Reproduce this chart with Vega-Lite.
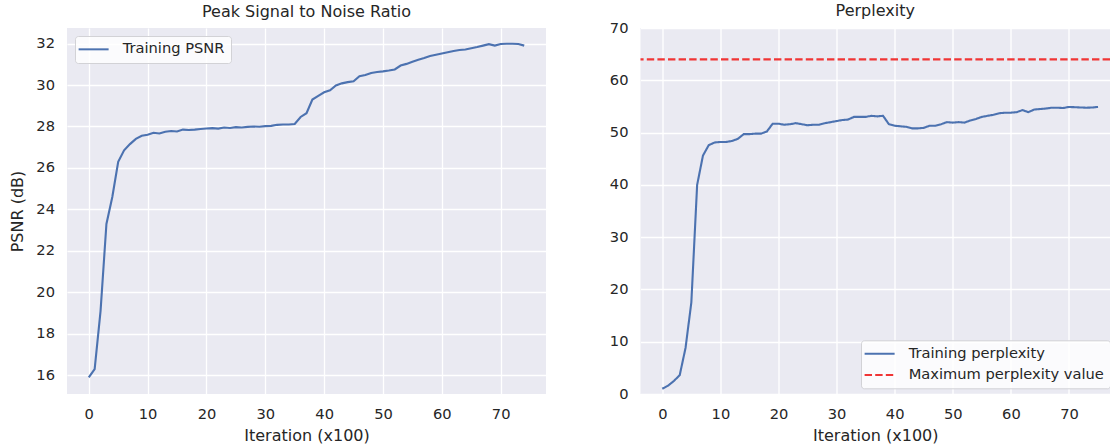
{
  "$schema": "https://vega.github.io/schema/vega-lite/v6.json",
  "background": "white",
  "padding": {"left": 9, "top": 2, "right": 0, "bottom": 0},
  "bounds": "flush",
  "spacing": 94.5,
  "datasets": {
    "psnr": [
      {"it": 0, "psnr": 15.9}, {"it": 1, "psnr": 16.3}, {"it": 2, "psnr": 19.1}, {"it": 3, "psnr": 23.3},
      {"it": 4, "psnr": 24.6}, {"it": 5, "psnr": 26.3}, {"it": 6, "psnr": 26.85}, {"it": 7, "psnr": 27.15},
      {"it": 8, "psnr": 27.4}, {"it": 9, "psnr": 27.55}, {"it": 10, "psnr": 27.6}, {"it": 11, "psnr": 27.7},
      {"it": 12, "psnr": 27.66}, {"it": 13, "psnr": 27.75}, {"it": 14, "psnr": 27.78}, {"it": 15, "psnr": 27.76},
      {"it": 16, "psnr": 27.85}, {"it": 17, "psnr": 27.83}, {"it": 18, "psnr": 27.85}, {"it": 19, "psnr": 27.88},
      {"it": 20, "psnr": 27.9}, {"it": 21, "psnr": 27.92}, {"it": 22, "psnr": 27.9}, {"it": 23, "psnr": 27.95},
      {"it": 24, "psnr": 27.93}, {"it": 25, "psnr": 27.97}, {"it": 26, "psnr": 27.95}, {"it": 27, "psnr": 27.98},
      {"it": 28, "psnr": 28.0}, {"it": 29, "psnr": 27.99}, {"it": 30, "psnr": 28.02}, {"it": 31, "psnr": 28.03},
      {"it": 32, "psnr": 28.08}, {"it": 33, "psnr": 28.1}, {"it": 34, "psnr": 28.1}, {"it": 35, "psnr": 28.12},
      {"it": 36, "psnr": 28.46}, {"it": 37, "psnr": 28.64}, {"it": 38, "psnr": 29.3}, {"it": 39, "psnr": 29.48},
      {"it": 40, "psnr": 29.65}, {"it": 41, "psnr": 29.75}, {"it": 42, "psnr": 29.98}, {"it": 43, "psnr": 30.08},
      {"it": 44, "psnr": 30.14}, {"it": 45, "psnr": 30.18}, {"it": 46, "psnr": 30.42}, {"it": 47, "psnr": 30.48},
      {"it": 48, "psnr": 30.58}, {"it": 49, "psnr": 30.63}, {"it": 50, "psnr": 30.66}, {"it": 51, "psnr": 30.7},
      {"it": 52, "psnr": 30.75}, {"it": 53, "psnr": 30.94}, {"it": 54, "psnr": 31.02}, {"it": 55, "psnr": 31.12},
      {"it": 56, "psnr": 31.22}, {"it": 57, "psnr": 31.3}, {"it": 58, "psnr": 31.4}, {"it": 59, "psnr": 31.46},
      {"it": 60, "psnr": 31.52}, {"it": 61, "psnr": 31.58}, {"it": 62, "psnr": 31.64}, {"it": 63, "psnr": 31.69},
      {"it": 64, "psnr": 31.71}, {"it": 65, "psnr": 31.77}, {"it": 66, "psnr": 31.83}, {"it": 67, "psnr": 31.9},
      {"it": 68, "psnr": 31.97}, {"it": 69, "psnr": 31.9}, {"it": 70, "psnr": 31.98}, {"it": 71, "psnr": 31.99},
      {"it": 72, "psnr": 31.99}, {"it": 73, "psnr": 31.98}, {"it": 74, "psnr": 31.9}
    ],
    "ppl": [
      {"it": 0, "ppl": 1.0, "series": "Training perplexity"}, {"it": 1, "ppl": 1.6, "series": "Training perplexity"},
      {"it": 2, "ppl": 2.5, "series": "Training perplexity"}, {"it": 3, "ppl": 3.6, "series": "Training perplexity"},
      {"it": 4, "ppl": 8.8, "series": "Training perplexity"}, {"it": 5, "ppl": 17.5, "series": "Training perplexity"},
      {"it": 6, "ppl": 40.0, "series": "Training perplexity"}, {"it": 7, "ppl": 45.6, "series": "Training perplexity"},
      {"it": 8, "ppl": 47.6, "series": "Training perplexity"}, {"it": 9, "ppl": 48.1, "series": "Training perplexity"},
      {"it": 10, "ppl": 48.2, "series": "Training perplexity"}, {"it": 11, "ppl": 48.2, "series": "Training perplexity"},
      {"it": 12, "ppl": 48.4, "series": "Training perplexity"}, {"it": 13, "ppl": 48.8, "series": "Training perplexity"},
      {"it": 14, "ppl": 49.7, "series": "Training perplexity"}, {"it": 15, "ppl": 49.7, "series": "Training perplexity"},
      {"it": 16, "ppl": 49.8, "series": "Training perplexity"}, {"it": 17, "ppl": 49.8, "series": "Training perplexity"},
      {"it": 18, "ppl": 50.2, "series": "Training perplexity"}, {"it": 19, "ppl": 51.7, "series": "Training perplexity"},
      {"it": 20, "ppl": 51.7, "series": "Training perplexity"}, {"it": 21, "ppl": 51.5, "series": "Training perplexity"},
      {"it": 22, "ppl": 51.6, "series": "Training perplexity"}, {"it": 23, "ppl": 51.8, "series": "Training perplexity"},
      {"it": 24, "ppl": 51.6, "series": "Training perplexity"}, {"it": 25, "ppl": 51.4, "series": "Training perplexity"},
      {"it": 26, "ppl": 51.5, "series": "Training perplexity"}, {"it": 27, "ppl": 51.5, "series": "Training perplexity"},
      {"it": 28, "ppl": 51.8, "series": "Training perplexity"}, {"it": 29, "ppl": 52.0, "series": "Training perplexity"},
      {"it": 30, "ppl": 52.2, "series": "Training perplexity"}, {"it": 31, "ppl": 52.4, "series": "Training perplexity"},
      {"it": 32, "ppl": 52.5, "series": "Training perplexity"}, {"it": 33, "ppl": 53.0, "series": "Training perplexity"},
      {"it": 34, "ppl": 53.0, "series": "Training perplexity"}, {"it": 35, "ppl": 53.0, "series": "Training perplexity"},
      {"it": 36, "ppl": 53.2, "series": "Training perplexity"}, {"it": 37, "ppl": 53.1, "series": "Training perplexity"},
      {"it": 38, "ppl": 53.2, "series": "Training perplexity"}, {"it": 39, "ppl": 51.6, "series": "Training perplexity"},
      {"it": 40, "ppl": 51.3, "series": "Training perplexity"}, {"it": 41, "ppl": 51.2, "series": "Training perplexity"},
      {"it": 42, "ppl": 51.1, "series": "Training perplexity"}, {"it": 43, "ppl": 50.8, "series": "Training perplexity"},
      {"it": 44, "ppl": 50.8, "series": "Training perplexity"}, {"it": 45, "ppl": 50.9, "series": "Training perplexity"},
      {"it": 46, "ppl": 51.3, "series": "Training perplexity"}, {"it": 47, "ppl": 51.3, "series": "Training perplexity"},
      {"it": 48, "ppl": 51.6, "series": "Training perplexity"}, {"it": 49, "ppl": 52.0, "series": "Training perplexity"},
      {"it": 50, "ppl": 51.9, "series": "Training perplexity"}, {"it": 51, "ppl": 52.0, "series": "Training perplexity"},
      {"it": 52, "ppl": 51.9, "series": "Training perplexity"}, {"it": 53, "ppl": 52.3, "series": "Training perplexity"},
      {"it": 54, "ppl": 52.6, "series": "Training perplexity"}, {"it": 55, "ppl": 53.0, "series": "Training perplexity"},
      {"it": 56, "ppl": 53.2, "series": "Training perplexity"}, {"it": 57, "ppl": 53.4, "series": "Training perplexity"},
      {"it": 58, "ppl": 53.7, "series": "Training perplexity"}, {"it": 59, "ppl": 53.8, "series": "Training perplexity"},
      {"it": 60, "ppl": 53.8, "series": "Training perplexity"}, {"it": 61, "ppl": 53.9, "series": "Training perplexity"},
      {"it": 62, "ppl": 54.3, "series": "Training perplexity"}, {"it": 63, "ppl": 53.9, "series": "Training perplexity"},
      {"it": 64, "ppl": 54.4, "series": "Training perplexity"}, {"it": 65, "ppl": 54.5, "series": "Training perplexity"},
      {"it": 66, "ppl": 54.6, "series": "Training perplexity"}, {"it": 67, "ppl": 54.75, "series": "Training perplexity"},
      {"it": 68, "ppl": 54.75, "series": "Training perplexity"}, {"it": 69, "ppl": 54.7, "series": "Training perplexity"},
      {"it": 70, "ppl": 54.9, "series": "Training perplexity"}, {"it": 71, "ppl": 54.85, "series": "Training perplexity"},
      {"it": 72, "ppl": 54.8, "series": "Training perplexity"}, {"it": 73, "ppl": 54.75, "series": "Training perplexity"},
      {"it": 74, "ppl": 54.8, "series": "Training perplexity"}, {"it": 75, "ppl": 54.9, "series": "Training perplexity"}
    ],
    "maxppl": [
      {"ppl": 64, "series": "Maximum perplexity value"}
    ]
  },
  "config": {
    "font": "DejaVu Sans",
    "view": {"fill": "#EAEAF2", "stroke": null},
    "axis": {
      "grid": true, "gridColor": "white", "gridWidth": 1.3,
      "domain": false, "ticks": false, "tickSize": 0,
      "labelFont": "DejaVu Sans", "labelFontSize": 14.67, "labelColor": "#262626", "labelPadding": 12.5,
      "titleFont": "DejaVu Sans", "titleFontSize": 16, "titleFontWeight": "normal", "titleColor": "#262626"
    },
    "axisX": {"titlePadding": 6},
    "axisY": {"titlePadding": 10.7},
    "title": {"font": "DejaVu Sans", "fontSize": 16, "fontWeight": "normal", "color": "#262626", "baseline": "alphabetic", "offset": 8.5, "frame": "group"},
    "legend": {
      "symbolType": "M-3.24,0H6.76", "symbolSize": 36, "symbolStrokeWidth": 2,
      "labelFont": "DejaVu Sans", "labelFontSize": 14.67, "labelColor": "#262626", "labelOffset": 27, "labelLimit": 400,
      "padding": 6, "rowPadding": 5.3,
      "fillColor": "rgba(255,255,255,0.8)", "strokeColor": "#D2D2D6", "strokeWidth": 1, "cornerRadius": 3
    }
  },
  "resolve": {
    "scale": {"x": "independent", "y": "independent", "color": "independent", "strokeDash": "independent"},
    "legend": {"color": "independent", "strokeDash": "independent"}
  },
  "hconcat": [
    {
      "width": 479, "height": 366,
      "title": "Peak Signal to Noise Ratio",
      "data": {"name": "psnr"},
      "mark": {"type": "line", "strokeWidth": 2.1},
      "encoding": {
        "x": {"field": "it", "type": "quantitative", "scale": {"domain": [-3.7, 77.7], "nice": false, "zero": false},
              "axis": {"values": [0, 10, 20, 30, 40, 50, 60, 70], "title": "Iteration (x100)"}},
        "y": {"field": "psnr", "type": "quantitative", "scale": {"domain": [15.1, 32.75], "nice": false, "zero": false},
              "axis": {"values": [16, 18, 20, 22, 24, 26, 28, 30, 32], "title": "PSNR (dB)"}},
        "color": {"datum": "Training PSNR", "type": "nominal", "scale": {"domain": ["Training PSNR"], "range": ["#4C72B0"]},
                  "legend": {"title": null, "orient": "none", "legendX": 8, "legendY": 8}}
      }
    },
    {
      "width": 469.5, "height": 366,
      "title": {"text": "Perplexity", "offset": 1.17},
      "layer": [
        {
          "data": {"name": "ppl"},
          "mark": {"type": "line", "strokeWidth": 2.1},
          "encoding": {
            "x": {"field": "it", "type": "quantitative", "scale": {"domain": [-3.75, 77.06], "nice": false, "zero": false},
                  "axis": {"values": [0, 10, 20, 30, 40, 50, 60, 70], "title": "Iteration (x100)"}},
            "y": {"field": "ppl", "type": "quantitative", "scale": {"domain": [0, 70], "nice": false},
                  "axis": {"values": [0, 10, 20, 30, 40, 50, 60, 70], "title": null}},
            "color": {"field": "series", "type": "nominal",
                      "scale": {"domain": ["Training perplexity", "Maximum perplexity value"], "range": ["#4C72B0", "#F03535"]},
                      "legend": {"title": null, "orient": "none", "legendX": 220.5, "legendY": 312.3}},
            "strokeDash": {"field": "series", "type": "nominal",
                      "scale": {"domain": ["Training perplexity", "Maximum perplexity value"], "range": [[1, 0], [7.4, 3.2]]},
                      "legend": {"title": null, "orient": "none", "legendX": 220.5, "legendY": 312.3}}
          }
        },
        {
          "data": {"name": "maxppl"},
          "mark": {"type": "rule", "strokeWidth": 2.1},
          "encoding": {
            "y": {"field": "ppl", "type": "quantitative"},
            "color": {"field": "series", "type": "nominal"},
            "strokeDash": {"field": "series", "type": "nominal"}
          }
        }
      ]
    }
  ]
}
